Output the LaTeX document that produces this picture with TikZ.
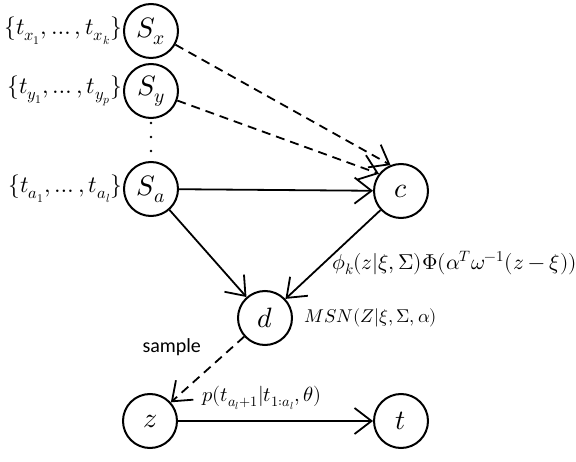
\documentclass[tikz,border=0pt]{standalone}
\usepackage{amsmath}
\usepackage{fontspec}
\usepackage{unicode-math}
\newfontfamily\labelfont{Carlito}
\usetikzlibrary{arrows.meta, positioning}
\tikzset{
  var/.style={circle, draw=black, line width=2pt, minimum size=54pt,
              inner sep=0pt, font=\fontsize{28}{30}\selectfont},
  setlbl/.style={font=\fontsize{23.5}{26}\selectfont, inner sep=0.5pt},
  eqlbl/.style={font=\fontsize{#1}{20}\selectfont, inner sep=1pt},
  eqlbl/.default=17,
  arr/.style={line width=1.8pt, -{Straight Barb[length=17pt, width=26pt, line width=1.8pt]}},
  dasharr/.style={arr, dash pattern=on 9pt off 6pt},
}
\begin{document}
\begin{tikzpicture}[x=1pt, y=-1pt]
  \useasboundingbox (0,0) rectangle (576,462);
  % observed series
  \node[var] (sx) at (151,31) {$S_x$};
  \node[var] (sy) at (151,91) {$S_y$};
  \node[var] (sa) at (151,189) {$S_a$};
  \foreach \yy in {123,137,151} \fill (151,\yy) circle (1.4pt);

  \node[setlbl, left=0pt of sx] (tx) {$\{t_{x_1},\ldots,t_{x_k}\}$};
  \node[setlbl, left=0pt of sy] (ty) {$\{t_{y_1},\ldots,t_{y_p}\}$};
  \node[setlbl, left=0pt of sa] (ta) {$\{t_{a_1},\ldots,t_{a_l}\}$};

  % latent nodes
  \node[var] (c) at (401,191) {$c$};
  \node[var] (d) at (265,318) {$d$};
  \node[var] (z) at (150,421) {$z$};
  \node[var] (t) at (401,421) {$t$};

  \draw[dasharr] (sx) -- (c.112);
  \draw[dasharr] (sy) -- (c.142);
  \draw[arr] (sa) -- (c);
  \draw[arr] (sa) -- (d);
  \draw[arr] (c) -- (d);
  \draw[dasharr] (d) -- (z);
  \draw[arr] (z) -- (t);

  \node[eqlbl=21.5, anchor=west] (phi) at (331,263)
    {$\phi_k(z|\xi,\Sigma)\Phi(\alpha^T\omega^{-1}(z-\xi))$};
  \node[eqlbl=18.5, right=10pt of d] (msn) {$MSN(Z|\xi,\Sigma,\alpha)$};
  \node[font=\labelfont\fontsize{20}{22}\selectfont, anchor=west] (smp) at (139,347) {sample};
  \node[eqlbl=20.5, anchor=west] (pt) at (201,398) {$p(t_{a_l+1}|t_{1:a_l},\theta)$};
\end{tikzpicture}
\end{document}
